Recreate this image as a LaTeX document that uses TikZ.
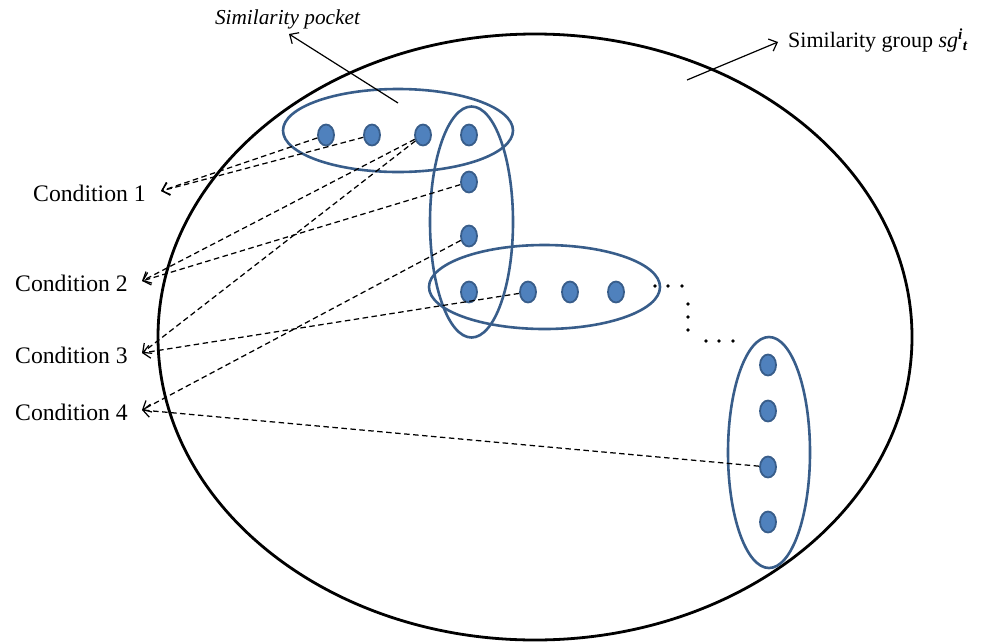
\documentclass[tikz,border=0pt]{standalone}
\usepackage{fontspec}
\usepackage{amsmath}
\setmainfont{Liberation Serif}
\usetikzlibrary{shapes.geometric,arrows.meta}
\definecolor{dotfill}{HTML}{4F81BD}
\definecolor{dotline}{HTML}{385D8A}
\begin{document}
\begin{tikzpicture}[x=1pt,y=-1pt,
  dotnode/.style={ellipse, draw=dotline, fill=dotfill, line width=1.8pt, minimum width=16pt, minimum height=21pt, inner sep=0pt},
  grp/.style={draw=dotline, line width=2.6pt},
  cond/.style={font=\fontsize{23.7}{28}\selectfont, anchor=east, inner sep=0pt},
  link/.style={dash pattern=on 5.5pt off 3.5pt, line width=1.25pt, -{Straight Barb[length=7pt,width=13pt]}},
  pointer/.style={line width=1.2pt, -{Straight Barb[length=7pt,width=13pt]}},
  ell/.style={fill=black, circle, inner sep=0pt, minimum size=3.6pt}]
\useasboundingbox (0,0) rectangle (995,643);
% big similarity group
\draw[line width=2.8pt] (535,337) ellipse [x radius=377pt, y radius=303pt];
% pockets
\draw[grp] (398,130.5) ellipse [x radius=115pt, y radius=41.5pt];
\draw[grp] (471.5,222) ellipse [x radius=41.5pt, y radius=115.5pt];
\draw[grp] (544.5,287) ellipse [x radius=115.5pt, y radius=42pt];
\draw[grp] (769,452.5) ellipse [x radius=41pt, y radius=115.5pt];
% dots
\node[dotnode] (t1) at (326,135) {};
\node[dotnode] (t2) at (372,135) {};
\node[dotnode] (t3) at (423,135) {};
\node[dotnode] (t4) at (469,135) {};
\node[dotnode] (v2) at (469,182) {};
\node[dotnode] (v3) at (469,236) {};
\node[dotnode] (m1) at (469,292) {};
\node[dotnode] (m2) at (528,292) {};
\node[dotnode] (m3) at (570,292) {};
\node[dotnode] (m4) at (616,292) {};
\node[dotnode] (r1) at (768,365) {};
\node[dotnode] (r2) at (768,411) {};
\node[dotnode] (r3) at (768,467) {};
\node[dotnode] (r4) at (768,522) {};
% ellipsis dots
\foreach \p/\q in {655/286,668/286,682/286,688/304,688/317,688/330,706/341,719/341,733/341}
  \node[ell] at (\p,\q) {};
% labels
\node[cond] (c1) at (146,193) {Condition 1};
\node[cond] (c2) at (128,283) {Condition 2};
\node[cond] (c3) at (128,355) {Condition 3};
\node[cond] (c4) at (128,412) {Condition 4};
\coordinate (c1t) at (161,191);
\coordinate (c2t) at (142,281);
\coordinate (c3t) at (142,353);
\coordinate (c4t) at (142,410);
\node[font=\fontsize{21.3}{25}\selectfont\itshape, anchor=base, inner sep=0pt] (pocket) at (287.5,24) {Similarity pocket};
\node[font=\fontsize{22}{26}\selectfont, anchor=base west, inner sep=0pt] (group) at (788,47) {Similarity group \textit{sg}$^{\text{\bfseries\itshape i}}{}_{\text{\bfseries\itshape t}}$};
\coordinate (ps) at (398,103);
\coordinate (pe) at (289,34);
\coordinate (gs) at (687,80);
\coordinate (ge) at (778,42);
\draw[pointer] (ps) -- (pe);
\draw[pointer] (gs) -- (ge);
% condition links
\draw[link] (t1) -- (c1t);
\draw[link] (t2) -- (c1t);
\draw[link] (t3) -- (c2t);
\draw[link] (v2) -- (c2t);
\draw[link] (t3) -- (c3t);
\draw[link] (m2) -- (c3t);
\draw[link] (v3) -- (c4t);
\draw[link] (r3) -- (c4t);
\end{tikzpicture}
\end{document}
